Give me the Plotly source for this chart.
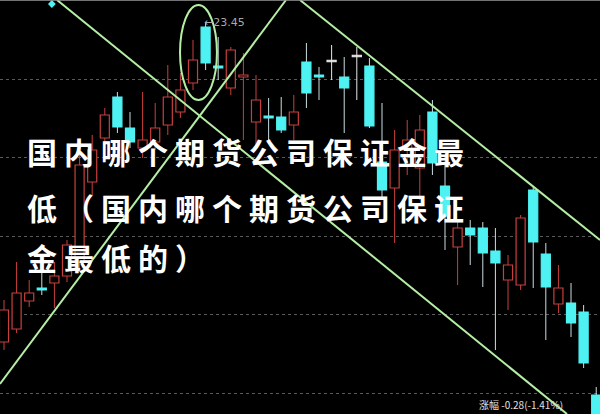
import plotly.graph_objects as go

# ---- data ----
idx = list(range(48))
opens  = [17.05,17.31,17.87,18.13,18.23,18.37,18.65,20.25,21.13,21.95,21.33,20.93,21.05,21.39,21.65,22.23,
          23.35,22.57,22.13,22.35,21.45,21.57,21.55,21.39,22.65,22.39,22.67,22.35,22.77,22.57,20.65,20.13,
          20.89,20.53,21.65,20.17,18.95,19.33,19.33,18.87,18.29,18.19,20.09,18.81,17.81,17.83,17.65,15.99]
highs  = [17.89,18.65,18.29,18.45,18.65,19.09,20.89,21.19,21.73,22.05,21.65,22.05,21.83,22.59,22.43,23.09,
          23.45,23.15,22.95,22.83,22.39,21.93,21.95,21.99,23.03,22.55,22.99,22.75,22.95,22.73,21.83,21.29,
          21.49,21.59,21.89,20.63,19.49,19.49,19.45,19.33,18.79,19.59,20.15,19.03,18.59,18.23,17.79,16.15]
lows   = [16.89,17.23,17.75,17.99,17.73,18.25,18.49,19.99,20.89,21.23,20.93,20.73,20.89,21.19,21.53,22.09,
          22.49,22.29,21.99,21.09,20.99,21.09,21.23,21.09,21.73,21.89,22.29,21.23,21.89,21.33,19.89,19.03,
          20.39,19.89,20.39,18.89,18.19,18.59,18.15,16.89,17.69,18.09,18.13,17.09,17.63,17.15,16.53,15.39]
closes = [17.69,18.03,18.03,18.09,18.37,18.99,20.59,20.89,21.59,21.35,21.05,21.09,21.33,21.95,22.09,22.69,
          22.63,22.53,22.89,22.39,21.89,21.53,21.29,21.65,22.03,22.35,22.67,22.13,22.77,21.37,20.09,20.89,
          21.09,21.29,20.63,19.57,19.33,19.19,18.83,18.63,18.59,19.53,19.05,18.15,18.13,17.43,16.63,15.49]

peak_label = "23.45"
grid_levels = [22.31, 20.75, 19.17, 17.61, 16.03]

# trend lines: (x0, y0, x1, y1) in (candle index, price)
trend_lines = [(4.21, 23.89, 44.68, 15.61),
               (-0.32, 16.21, 22.38, 23.89),
               (23.49, 23.89, 47.30, 19.09)]

title_lines = ["国内哪个期货公司保证金最", "低（国内哪个期货公司保证", "金最低的）"]
footer_text = "涨幅 -0.28(-1.41%)"

# ---- styling ----
RED = "#c8403c"
CYAN = "#4ef2f2"
WICK_DN = "#c9dde2"
WHITE_X = "#e8e8e8"
GREEN = "#b4eea4"
W, H = 600, 414

fig = go.Figure()

# wicks
seg = {"up": ([], []), "dn": ([], []), "flat": ([], [])}
for i, o, h, l, c in zip(idx, opens, highs, lows, closes):
    key = "flat" if o == c else ("up" if c > o else "dn")
    top, bot = max(o, c), min(o, c)
    xs, ys = seg[key]
    xs += [i, i, None, i, i, None]
    ys += [h, top, None, bot, l, None]
for key, col in [("up", RED), ("dn", WICK_DN), ("flat", WHITE_X)]:
    fig.add_trace(go.Scatter(x=seg[key][0], y=seg[key][1], mode="lines",
                             line=dict(color=col, width=1), hoverinfo="skip"))

# bodies
bases, heights, fills, outlines = [], [], [], []
for o, c in zip(opens, closes):
    bases.append(min(o, c) if o != c else o - 0.015)
    heights.append(max(abs(c - o), 0.03))
    if o == c:
        fills.append(WHITE_X); outlines.append(WHITE_X)
    elif c > o:
        fills.append("#000000"); outlines.append(RED)
    else:
        fills.append(CYAN); outlines.append(CYAN)
fig.add_trace(go.Bar(x=idx, y=heights, base=bases, width=0.72,
                     marker=dict(color=fills, line=dict(color=outlines, width=1.2)),
                     hoverinfo="skip"))

# small marker top-left
fig.add_trace(go.Scatter(x=[3.8], y=[23.81], mode="markers",
                         marker=dict(symbol="diamond", size=6, color=CYAN), hoverinfo="skip"))

for (x0, y0, x1, y1) in trend_lines:
    fig.add_shape(type="line", x0=x0, y0=y0, x1=x1, y1=y1, xref="x", yref="y",
                  line=dict(color=GREEN, width=2))
fig.add_shape(type="circle", x0=13.97, x1=16.90, y0=21.89, y1=23.79, xref="x", yref="y",
              line=dict(color=GREEN, width=2))
# thin light frame line along the top edge
fig.add_shape(type="line", x0=0, x1=1, y0=1, y1=1, xref="paper", yref="paper",
              line=dict(color="#9a9a9a", width=1.5))

fig.add_annotation(x=16, y=23.45, xref="x", yref="y", text="←" + peak_label, showarrow=False,
                   xanchor="left", yanchor="middle", xshift=-4,
                   font=dict(family="DejaVu Sans", size=11, color="#a8a8a8"))

# title characters
centers_y = [151, 207, 257]
for line, cy in zip(title_lines, centers_y):
    for k, ch in enumerate(line):
        cx = 28 + 37 * k + 14
        fig.add_annotation(x=cx / W, y=1 - cy / H, xref="paper", yref="paper", text="<b>" + ch + "</b>",
                           showarrow=False, xanchor="center", yanchor="middle",
                           font=dict(family="Noto Sans CJK SC", size=30, color="#ffffff"))

fig.add_annotation(x=477 / W, y=1 - 395 / H, xref="paper", yref="paper", text=footer_text,
                   showarrow=False, xanchor="left", yanchor="top",
                   font=dict(family="Noto Sans CJK SC", size=10, color="#e0e0e0"))

fig.update_layout(
    width=W, height=H, margin=dict(l=0, r=0, t=0, b=0),
    paper_bgcolor="#000000", plot_bgcolor="#000000",
    showlegend=False, barmode="overlay",
    xaxis=dict(range=[-0.317, 47.30], visible=False, fixedrange=True),
    yaxis=dict(range=[15.61, 23.89], tickvals=grid_levels, showticklabels=False,
               showgrid=True, gridcolor="#5a5a5a", griddash="dot", gridwidth=1,
               zeroline=False, showline=False, fixedrange=True),
)

fig.write_html("out.html", config={"displayModeBar": False},
               post_script="document.body.style.margin='0';document.body.style.background='#000';")
